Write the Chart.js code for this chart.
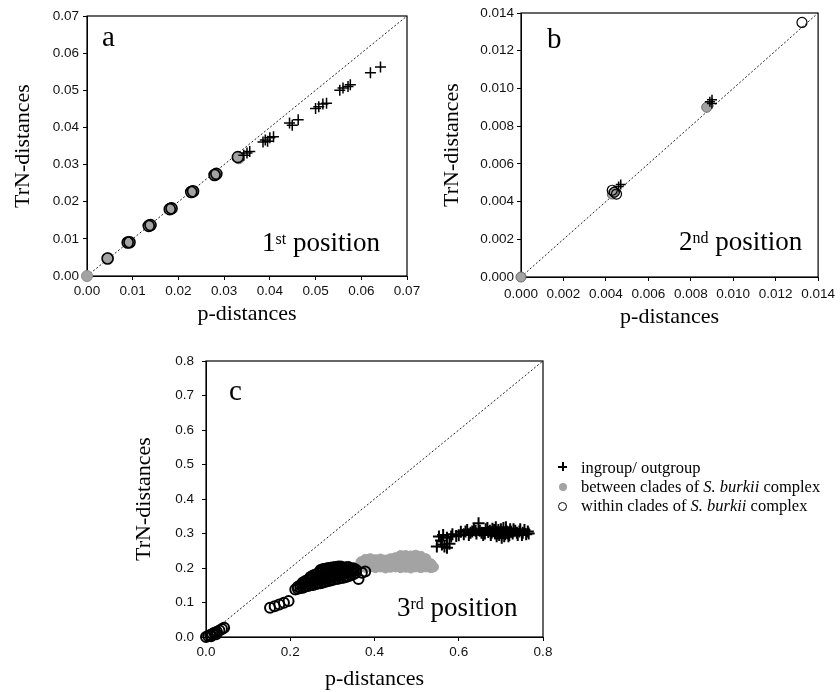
<!DOCTYPE html>
<html>
<head>
<meta charset="utf-8">
<script src="https://cdn.jsdelivr.net/npm/chart.js@4/dist/chart.umd.min.js"></script>
<style>
  body { margin: 0; background: #fff; }
  #wrap { position: relative; width: 840px; height: 692px; overflow: hidden; }
  #wrap canvas { position: absolute; left: 0; top: 0; }
  .lbl { position: absolute; font-family: 'Liberation Serif', 'Times New Roman', serif; line-height: 1; white-space: nowrap; color: #000; }
  .letter { font-size: 29px; }
  .pos { font-size: 27px; }
  .pos span { font-size: 16px; vertical-align: 7px; }
  .leg { font-size: 16.5px; left: 581px; }
  .mk { position: absolute; }
  .cross { width: 9px; height: 9px; }
  .cross::before, .cross::after { content: ''; position: absolute; background: #000; }
  .cross::before { left: 0; top: 4px; width: 9px; height: 1.5px; }
  .cross::after { left: 4px; top: 0; width: 1.5px; height: 9px; }
  .dot { width: 8px; height: 8px; border-radius: 50%; background: #a3a3a3; }
  .ring { width: 7px; height: 7px; border-radius: 50%; border: 1.5px solid #000; }
</style>
</head>
<body>
<div id="wrap">
  <canvas id="panelA" width="840" height="692"></canvas>
  <canvas id="panelB" width="840" height="692"></canvas>
  <canvas id="panelC" width="840" height="692"></canvas>

  <div class="lbl letter" style="left:102px;top:22px">a</div>
  <div class="lbl letter" style="left:547px;top:24px">b</div>
  <div class="lbl letter" style="left:229px;top:376px">c</div>

  <div class="lbl pos" style="left:262px;top:229px">1<span>st</span> position</div>
  <div class="lbl pos" style="left:679px;top:228px">2<span>nd</span> position</div>
  <div class="lbl pos" style="left:397px;top:594px">3<span>rd</span> position</div>

  <div class="mk cross" style="left:558px;top:462px"></div>
  <div class="mk dot" style="left:559px;top:483px"></div>
  <div class="mk ring" style="left:558px;top:502px"></div>
  <div class="lbl leg" style="top:460px">ingroup/ outgroup</div>
  <div class="lbl leg" style="top:479px">between clades of <i>S. burkii</i> complex</div>
  <div class="lbl leg" style="top:498px">within clades of <i>S. burkii</i> complex</div>
</div>

<script>
// [p-distance, TrN-distance] pairs

// a: 1st codon position
const betweenA = [[0, 0], [0.0046, 0.0048], [0.0091, 0.0092], [0.0137, 0.0137], [0.0183, 0.0182],
  [0.0230, 0.0228], [0.0281, 0.0274], [0.0332, 0.0317]];
const withinA = [[0.0045, 0.0047], [0.0089, 0.0090], [0.0093, 0.0091], [0.0135, 0.0135], [0.0139, 0.0137],
  [0.0181, 0.0180], [0.0185, 0.0182], [0.0228, 0.0226], [0.0232, 0.0228], [0.0279, 0.0272], [0.0283, 0.0275],
  [0.0330, 0.0320]];
const ingroupA = [[0.0343, 0.0325], [0.0350, 0.0331], [0.0356, 0.0335],
  [0.0385, 0.0361], [0.0390, 0.0366], [0.0395, 0.0363], [0.0400, 0.0372], [0.0408, 0.0375],
  [0.0443, 0.0412], [0.0449, 0.0406], [0.0462, 0.0421],
  [0.0500, 0.0451], [0.0507, 0.0456], [0.0516, 0.0463], [0.0524, 0.0465],
  [0.0553, 0.0500], [0.0560, 0.0506], [0.0571, 0.0510], [0.0576, 0.0515],
  [0.0620, 0.0547], [0.0642, 0.0563]];

// b: 2nd codon position
const betweenB = [[0, 0], [0.0044, 0.0045], [0.0043, 0.0044], [0.00875, 0.0090]];
const withinB = [[0.0044, 0.0045], [0.0045, 0.0044], [0.0043, 0.0046], [0.01324, 0.0135]];
const ingroupB = [[0.0046, 0.0048], [0.0047, 0.0049], [0.0090, 0.0094], [0.0090, 0.0092], [0.0089, 0.0093]];

// c: 3rd codon position
const withinC = [
  [0.000, 0.000], [0.005, 0.003], [0.010, 0.006], [0.015, 0.009], [0.020, 0.012], [0.026, 0.015],
  [0.032, 0.019], [0.038, 0.023], [0.043, 0.027], [0.012, 0.002], [0.024, 0.008],
  [0.152, 0.085], [0.163, 0.089], [0.174, 0.094], [0.185, 0.099], [0.196, 0.104],
  [0.212, 0.138], [0.218, 0.140], [0.218, 0.146], [0.224, 0.142], [0.224, 0.150],
  [0.230, 0.143], [0.230, 0.152], [0.230, 0.158], [0.236, 0.146], [0.236, 0.155], [0.236, 0.162],
  [0.242, 0.148], [0.242, 0.157], [0.242, 0.166],
  [0.248, 0.150], [0.248, 0.159], [0.248, 0.168], [0.248, 0.174],
  [0.254, 0.151], [0.254, 0.161], [0.254, 0.170], [0.254, 0.178],
  [0.260, 0.153], [0.260, 0.163], [0.260, 0.172], [0.260, 0.181],
  [0.266, 0.155], [0.266, 0.165], [0.266, 0.175], [0.266, 0.185],
  [0.272, 0.156], [0.272, 0.166], [0.272, 0.177], [0.272, 0.188], [0.272, 0.194],
  [0.278, 0.158], [0.278, 0.168], [0.278, 0.179], [0.278, 0.190], [0.278, 0.197],
  [0.284, 0.160], [0.284, 0.170], [0.284, 0.181], [0.284, 0.191], [0.284, 0.198],
  [0.290, 0.162], [0.290, 0.172], [0.290, 0.183], [0.290, 0.193], [0.290, 0.200],
  [0.296, 0.164], [0.296, 0.174], [0.296, 0.185], [0.296, 0.195], [0.296, 0.201],
  [0.302, 0.166], [0.302, 0.176], [0.302, 0.187], [0.302, 0.197], [0.302, 0.202],
  [0.308, 0.168], [0.308, 0.178], [0.308, 0.189], [0.308, 0.198], [0.308, 0.203],
  [0.314, 0.169], [0.314, 0.180], [0.314, 0.190], [0.314, 0.199], [0.314, 0.204],
  [0.320, 0.171], [0.320, 0.181], [0.320, 0.191], [0.320, 0.200], [0.320, 0.204],
  [0.326, 0.172], [0.326, 0.183], [0.326, 0.193], [0.326, 0.201],
  [0.332, 0.174], [0.332, 0.185], [0.332, 0.195], [0.332, 0.202],
  [0.338, 0.176], [0.338, 0.187], [0.338, 0.196], [0.338, 0.203],
  [0.344, 0.179], [0.344, 0.189], [0.344, 0.198], [0.350, 0.182], [0.350, 0.192], [0.350, 0.199],
  [0.356, 0.186], [0.356, 0.195], [0.362, 0.168], [0.370, 0.186], [0.378, 0.190]];
const betweenC = [
  [0.368, 0.205], [0.368, 0.218], [0.378, 0.202], [0.378, 0.214], [0.378, 0.225],
  [0.390, 0.204], [0.390, 0.216], [0.390, 0.227], [0.402, 0.201], [0.402, 0.213], [0.402, 0.224],
  [0.414, 0.203], [0.414, 0.215], [0.414, 0.226], [0.426, 0.200], [0.426, 0.212], [0.426, 0.223],
  [0.438, 0.202], [0.438, 0.214], [0.438, 0.227], [0.450, 0.203], [0.450, 0.216], [0.450, 0.230],
  [0.462, 0.201], [0.462, 0.213], [0.462, 0.226], [0.462, 0.236],
  [0.474, 0.202], [0.474, 0.215], [0.474, 0.228], [0.474, 0.236],
  [0.486, 0.200], [0.486, 0.212], [0.486, 0.224], [0.486, 0.235],
  [0.498, 0.203], [0.498, 0.216], [0.498, 0.229], [0.498, 0.237],
  [0.510, 0.201], [0.510, 0.214], [0.510, 0.226], [0.510, 0.234],
  [0.522, 0.203], [0.522, 0.215], [0.522, 0.227], [0.534, 0.201], [0.534, 0.212], [0.540, 0.203]];
const ingroupC = [
  [0.548, 0.262], [0.560, 0.268], [0.572, 0.259], [0.578, 0.270], [0.553, 0.291], [0.563, 0.296],
  [0.572, 0.288], [0.585, 0.298], [0.594, 0.293], [0.558, 0.280], [0.566, 0.262], [0.582, 0.291],
  [0.600, 0.295], [0.605, 0.305], [0.612, 0.298], [0.616, 0.306], [0.620, 0.310], [0.624, 0.296],
  [0.628, 0.302], [0.632, 0.306], [0.636, 0.312], [0.640, 0.308], [0.642, 0.300], [0.647, 0.330],
  [0.650, 0.308], [0.654, 0.302], [0.658, 0.296], [0.662, 0.300], [0.664, 0.312], [0.668, 0.316],
  [0.670, 0.304], [0.674, 0.308], [0.676, 0.296], [0.678, 0.302], [0.680, 0.314], [0.684, 0.310],
  [0.686, 0.300], [0.688, 0.318], [0.690, 0.292], [0.692, 0.300], [0.694, 0.310], [0.696, 0.296],
  [0.698, 0.302], [0.700, 0.312], [0.702, 0.288], [0.704, 0.300], [0.706, 0.316], [0.708, 0.292],
  [0.710, 0.298], [0.712, 0.318], [0.714, 0.306], [0.716, 0.300], [0.718, 0.292], [0.720, 0.296],
  [0.722, 0.312], [0.724, 0.305], [0.728, 0.300], [0.730, 0.312], [0.734, 0.308], [0.738, 0.302],
  [0.740, 0.296], [0.744, 0.306], [0.746, 0.312], [0.750, 0.296], [0.752, 0.302], [0.756, 0.310],
  [0.760, 0.298], [0.764, 0.306], [0.766, 0.300]];

// axis ranges: [max, step, decimals, x step]
const axisA = [0.07, 0.01, 2];
const axisB = [0.014, 0.002, 3];
const axisC = [0.8, 0.1, 1, 0.2];

const W = 840, H = 692;
const tickFont = { family: "'Liberation Sans', Arial, sans-serif", size: 13.5 };
const titleFont = { family: "'Liberation Serif', 'Times New Roman', serif", size: 22 };
const toPoints = arr => arr.map(([x, y]) => ({ x, y }));

// black box round the plot area, under the points
const frame = {
  id: 'frame',
  beforeDatasetsDraw(chart) {
    const { ctx, chartArea: a } = chart;
    ctx.save();
    ctx.strokeStyle = '#000';
    ctx.lineWidth = 1.2;
    ctx.strokeRect(a.left, a.top, a.right - a.left, a.bottom - a.top);
    ctx.restore();
  }
};

function panel(id, p) {
  const [max, step, dec, xStep] = p.axis;
  const fmt = v => v.toFixed(dec);
  return new Chart(document.getElementById(id), {
    type: 'scatter',
    data: {
      datasets: [{
        label: 'y = x',
        data: [{ x: 0, y: 0 }, { x: max, y: max }],
        showLine: true,
        borderColor: '#222',
        borderWidth: 1,
        borderDash: [2, 2],
        pointRadius: 0,
        order: 5
      }, {
        label: 'between clades of S. burkii complex',
        data: toPoints(p.between),
        backgroundColor: '#a3a3a3',
        borderColor: p.grayEdge,
        borderWidth: 1,
        pointRadius: p.r,
        order: 4,
        clip: false
      }, {
        label: 'within clades of S. burkii complex',
        data: toPoints(p.within),
        backgroundColor: 'rgba(0,0,0,0)',
        borderColor: '#000',
        borderWidth: p.ring,
        pointRadius: p.r,
        order: 3,
        clip: false
      }, {
        label: 'ingroup/ outgroup',
        data: toPoints(p.ingroup),
        pointStyle: 'cross',
        borderColor: '#000',
        borderWidth: p.crossW,
        pointRadius: p.cross,
        order: 2,
        clip: false
      }]
    },
    options: {
      responsive: false,
      animation: false,
      events: [],
      layout: { padding: { left: 0, top: p.area.t, right: W - p.area.r, bottom: 0 } },
      plugins: { legend: { display: false }, tooltip: { enabled: false } },
      scales: {
        x: {
          type: 'linear', min: 0, max: max,
          ticks: { stepSize: xStep || step, callback: fmt, font: tickFont, color: '#111', padding: p.xPad, maxRotation: 0, autoSkip: false },
          grid: { drawOnChartArea: false, tickLength: 4, color: '#000' },
          border: { color: '#000' },
          title: { display: true, text: 'p-distances', font: titleFont, color: '#000', padding: { top: 0, bottom: p.xTitle } },
          afterFit: s => { s.height = H - p.area.b; }
        },
        y: {
          type: 'linear', min: 0, max: max,
          ticks: { stepSize: step, callback: fmt, font: tickFont, color: '#111', padding: p.yPad, autoSkip: false },
          grid: { drawOnChartArea: false, tickLength: 4, color: '#000' },
          border: { color: '#000' },
          title: { display: true, text: 'TrN-distances', font: titleFont, color: '#000', padding: { top: p.yTitle, bottom: 0 } },
          afterFit: s => { s.width = p.area.l; }
        }
      }
    },
    plugins: [frame]
  });
}

document.addEventListener('DOMContentLoaded', () => {
  // Panel a
  panel('panelA', {
    axis: axisA, between: betweenA, within: withinA, ingroup: ingroupA,
    area: { l: 87, r: 407, t: 16, b: 276 },
    r: 5.5, ring: 1.6, cross: 5.5, crossW: 1.5, grayEdge: '#8a8a8a',
    xPad: 3, yPad: 4, xTitle: 365, yTitle: 10
  });

  // Panel b
  panel('panelB', {
    axis: axisB, between: betweenB, within: withinB, ingroup: ingroupB,
    area: { l: 521, r: 821, t: 13, b: 277 },
    r: 5, ring: 1.2, cross: 5, crossW: 1.5, grayEdge: '#666',
    xPad: 5, yPad: 3, xTitle: 362, yTitle: 439
  });

  // Panel c
  panel('panelC', {
    axis: axisC, between: betweenC, within: withinC, ingroup: ingroupC,
    area: { l: 206, r: 543, t: 361, b: 637 },
    r: 5, ring: 2, cross: 6, crossW: 2, grayEdge: '#a3a3a3',
    xPad: 3, yPad: 8, xTitle: 0, yTitle: 131
  });
});
</script>
</body>
</html>
